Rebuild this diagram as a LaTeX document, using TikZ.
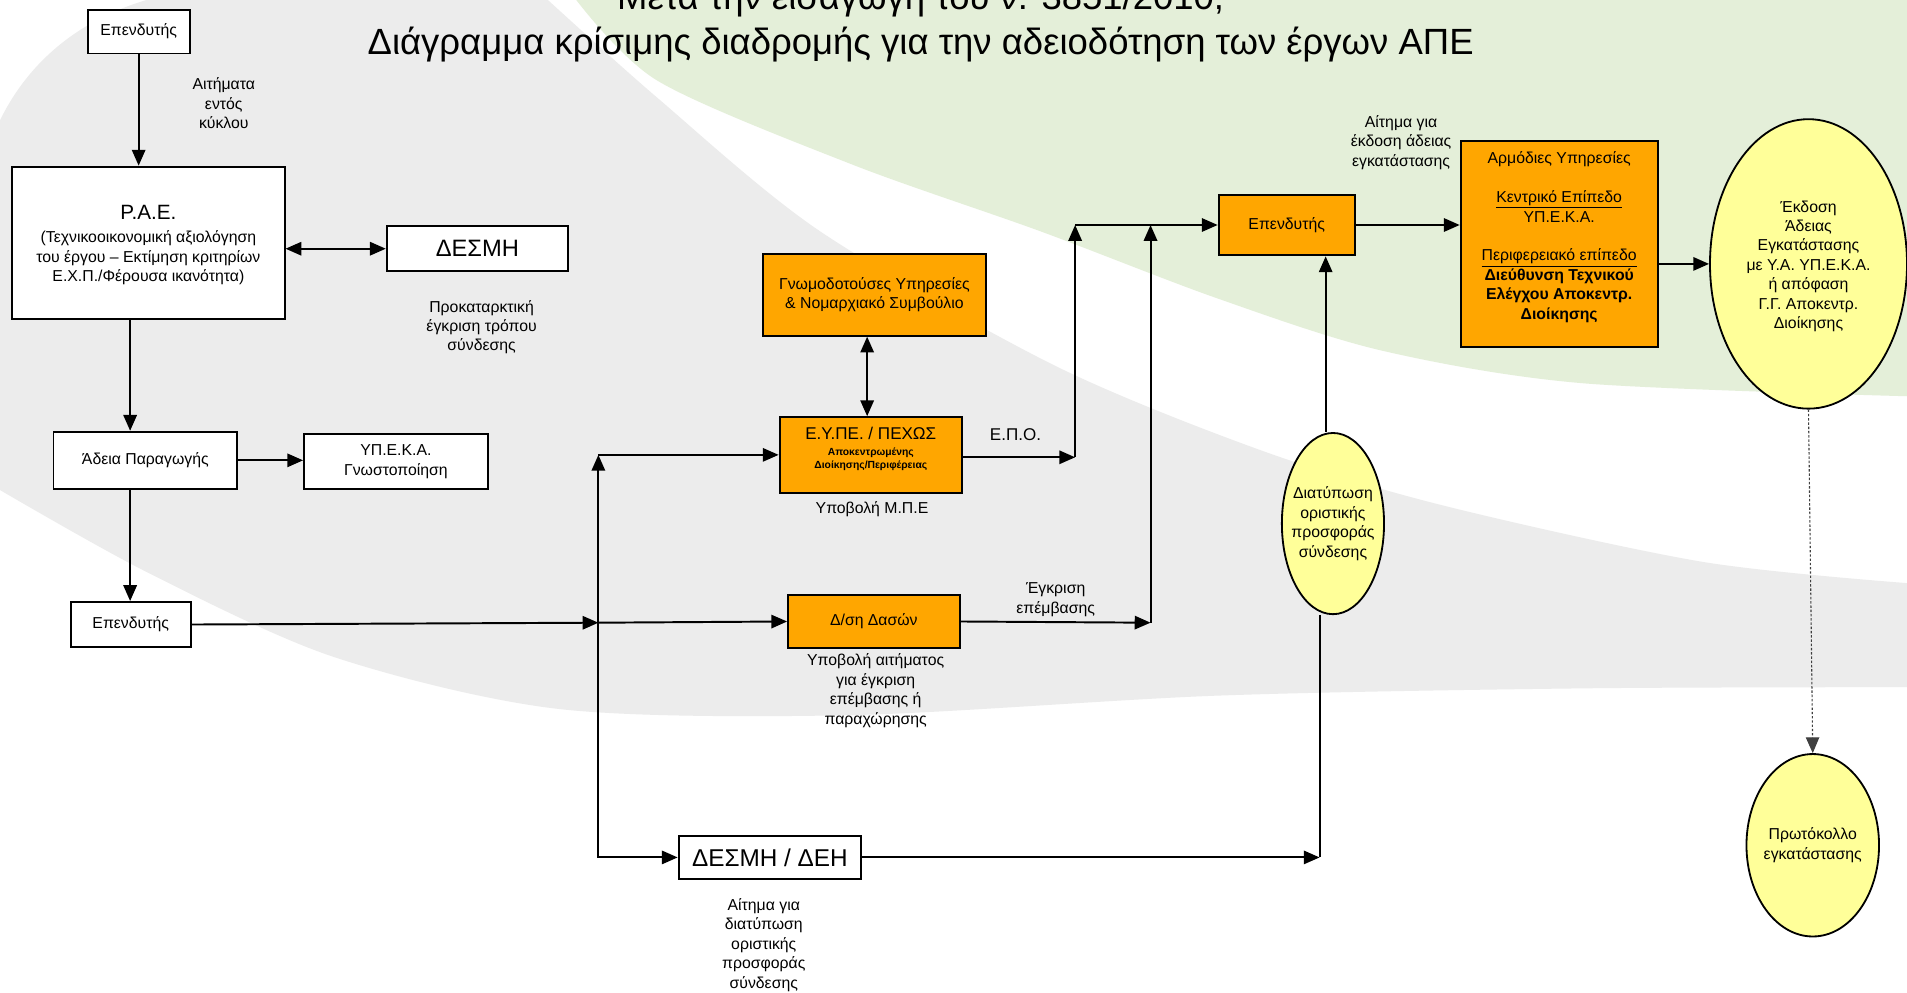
\documentclass[tikz,border=0pt]{standalone}
\usepackage{fontspec}
\setmainfont{Liberation Sans}
\usetikzlibrary{arrows.meta,shapes.geometric,calc}
\definecolor{orangeF}{RGB}{255,166,0}
\definecolor{yellowF}{RGB}{255,255,153}
\definecolor{greyBG}{RGB}{236,236,236}
\definecolor{greenBG}{RGB}{228,239,217}
\begin{document}
\begin{tikzpicture}[x=1pt,y=-1pt,
  font=\fontsize{13}{16}\selectfont,
  box/.style={draw=black, line width=1.6pt, fill=white, inner sep=0pt, align=center},
  obox/.style={box, fill=orangeF},
  ell/.style={ellipse, draw=black, line width=1.5pt, fill=yellowF, inner sep=0pt},
  lbl/.style={align=center, inner sep=0pt},
  arr/.style={line width=1.6pt, -{Triangle[length=13pt,width=11pt]}},
  dbl/.style={line width=1.6pt, {Triangle[length=13pt,width=11pt]}-{Triangle[length=13pt,width=11pt]}},
]
\useasboundingbox (0,0) rectangle (1568,816);
% background
\begin{scope}
\clip (0,0) rectangle (1568,816);
\fill[white] (0,0) rectangle (1568,816);
\fill[greyBG] plot[smooth] coordinates {(-5,400) (120,470) (274,540) (460,583) (700,588) (1000,572) (1300,566) (1575,565)}
  -- plot[smooth] coordinates {(1575,480) (1400,462) (1184,415) (1036,370) (866,300) (674,190) (540,80) (445,-5)}
  -- (140,-5) .. controls (70,10) and (20,50) .. (-5,110) -- cycle;
\fill[greenBG] plot[smooth] coordinates {(470,-5) (540,66) (700,135) (855,190) (1000,245) (1135,288) (1300,315) (1575,326)}
  -- (1575,-5) -- cycle;
\end{scope}
% titles
\node[font=\fontsize{30}{34}\selectfont, anchor=base, inner sep=0pt] (title1) at (757,8) {Μετά την εισαγωγή του ν. 3851/2010,};
\node[font=\fontsize{30}{34}\selectfont, anchor=base, inner sep=0pt] (title2) at (757,45) {Διάγραμμα κρίσιμης διαδρομής για την αδειοδότηση των έργων ΑΠΕ};
% nodes
\node[box, minimum width=84pt, minimum height=36pt] (inv1) at (114,26) {Επενδυτής};
\node[box, minimum width=224pt, minimum height=125pt] (pae) at (122,199.5) {};
\node[lbl, yshift=-2pt] (paeT) at (pae.center) {{\fontsize{17}{20}\selectfont Ρ.Α.Ε.}\\[3pt](Τεχνικοοικονομική αξιολόγηση\\του έργου – Εκτίμηση κριτηρίων\\Ε.Χ.Π./Φέρουσα ικανότητα)};
\node[box, minimum width=149pt, minimum height=37pt, font=\fontsize{19.5}{22}\selectfont] (desmi) at (392.5,204.5) {ΔΕΣΜΗ};
\node[box, minimum width=151pt, minimum height=47pt] (adeia) at (119.5,378.5) {Άδεια Παραγωγής};
\node[box, minimum width=151pt, minimum height=45pt] (ypeka) at (325.5,379.5) {ΥΠ.Ε.Κ.Α.\\Γνωστοποίηση};
\node[box, minimum width=99pt, minimum height=37pt] (inv2) at (107.5,513.5) {Επενδυτής};
\node[obox, minimum width=184pt, minimum height=67pt] (gnom) at (719,242.5) {Γνωμοδοτούσες Υπηρεσίες\\\& Νομαρχιακό Συμβούλιο};
\node[obox, minimum width=150pt, minimum height=62pt] (eype) at (716,374) {};
\node[lbl, yshift=5pt] (eypeT) at (eype.center) {{\fontsize{14}{16}\selectfont Ε.Υ.ΠΕ. / ΠΕΧΩΣ}\\[-3pt]{\fontsize{8.5}{10}\selectfont\bfseries Αποκεντρωμένης}\\[-5pt]{\fontsize{8.5}{10}\selectfont\bfseries Διοίκησης/Περιφέρειας}};
\node[obox, minimum width=141pt, minimum height=44pt] (dasos) at (718.5,511) {Δ/ση Δασών};
\node[box, minimum width=150pt, minimum height=36pt, font=\fontsize{20}{22}\selectfont] (desmideh) at (633,705) {ΔΕΣΜΗ / ΔΕΗ};
\node[ell, minimum width=84pt, minimum height=149pt] (diat) at (1096,430.5) {};
\node[lbl] (diatT) at (diat.center) {Διατύπωση\\οριστικής\\προσφοράς\\σύνδεσης};
\node[obox, minimum width=112pt, minimum height=50pt] (inv3) at (1058,185) {Επενδυτής};
\node[obox, minimum width=162pt, minimum height=169pt] (armod) at (1282,200.5) {};
\node[lbl, yshift=5.5pt] (armodT) at (armod.center) {Αρμόδιες Υπηρεσίες\\[16pt]\underline{Κεντρικό Επίπεδο}\\ΥΠ.Ε.Κ.Α.\\[16pt]\underline{Περιφερειακό επίπεδο}\\\textbf{Διεύθυνση Τεχνικού}\\\textbf{Ελέγχου Αποκεντρ.}\\\textbf{Διοίκησης}};
\node[ell, minimum width=162pt, minimum height=238pt] (ekdosi) at (1487,217) {};
\node[lbl, yshift=-2pt] (ekdosiT) at (ekdosi.center) {Έκδοση\\Άδειας\\Εγκατάστασης\\με Υ.Α. ΥΠ.Ε.Κ.Α.\\ή απόφαση\\Γ.Γ. Αποκεντρ.\\Διοίκησης};
\node[ell, minimum width=109pt, minimum height=150pt] (prot) at (1490.5,695) {};
\node[lbl] (protT) at (prot.center) {Πρωτόκολλο\\εγκατάστασης};
% labels
\node[lbl] (l1) at (184,85) {Αιτήματα\\εντός\\κύκλου};
\node[lbl] (l2) at (396,269) {Προκαταρκτική\\έγκριση τρόπου\\σύνδεσης};
\node[lbl] (l3) at (717,419) {Υποβολή Μ.Π.Ε};
\node[lbl, font=\fontsize{14}{16}\selectfont] (l4) at (835,357) {Ε.Π.Ο.};
\node[lbl] (l5) at (868,493) {Έγκριση\\επέμβασης};
\node[lbl] (l6) at (720,568) {Υποβολή αιτήματος\\για έγκριση\\επέμβασης ή\\παραχώρησης};
\node[lbl] (l7) at (628,777) {Αίτημα για\\διατύπωση\\οριστικής\\προσφοράς\\σύνδεσης};
\node[lbl] (l8) at (1152,117) {Αίτημα για\\έκδοση άδειας\\εγκατάστασης};
% junction coordinates
\coordinate (xa) at (107,0);
\coordinate (xb) at (713,0);
\coordinate (J) at (492,512);
\coordinate (K1) at (884,376);
\coordinate (K2) at (946,512);
\coordinate (K3) at (1085,705);
\coordinate (K4) at (1090,0);
% connectors
\draw[arr] (inv1.south) -- (inv1.south |- pae.north);
\draw[dbl] (pae.east |- desmi.west) -- (desmi.west);
\draw[arr] (pae.south -| xa) -- (adeia.north -| xa);
\draw[arr] (adeia.east) -- (adeia.east -| ypeka.west);
\draw[arr] (adeia.south -| xa) -- (inv2.north -| xa);
\draw[arr] (inv2.east) -- (J);
\draw[arr] (J) -- (J |- eype.west);
\draw[arr] (J |- eype.west) -- (eype.west);
\draw[arr] (J) -- (dasos.west);
\draw[arr] (J) |- (desmideh.west);
\draw[dbl] (eype.north -| xb) -- (gnom.south -| xb);
\draw[arr] (eype.east |- K1) -- (K1);
\draw[arr] (K1) -- (K1 |- inv3.west);
\draw[arr] (K1 |- inv3.west) -- (inv3.west);
\draw[arr] (dasos.east) -- (K2);
\draw[arr] (K2) -- (K2 |- inv3.west);
\draw[arr] (desmideh.east) -- (K3);
\draw[line width=1.6pt] (K3) -- (K3 |- diat.south);
\draw[arr] (diat.north -| K4) -- (inv3.south -| K4);
\draw[arr] (inv3.east) -- (inv3.east -| armod.west);
\draw[arr] (armod.east |- ekdosi.west) -- (ekdosi.west);
\draw[line width=0.9pt, dash pattern=on 2pt off 1.5pt, black!75, -{Triangle[length=13pt,width=11pt]}] (ekdosi.south) -- (prot.north);
\end{tikzpicture}
\end{document}
